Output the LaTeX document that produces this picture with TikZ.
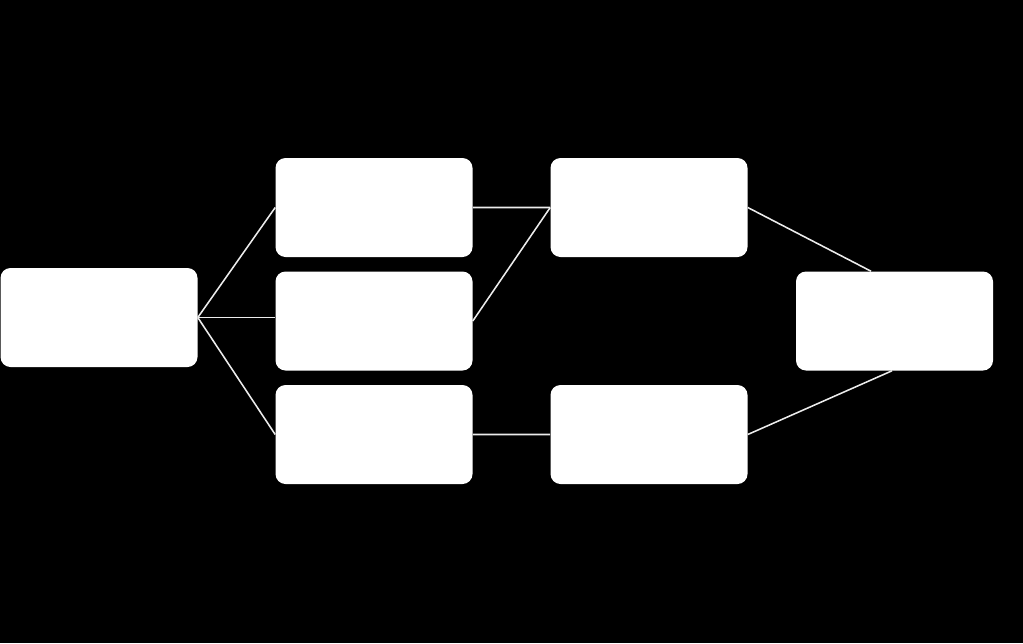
\documentclass[tikz,border=0pt]{standalone}
\begin{document}
\begin{tikzpicture}[grow'=right,
    level distance=6.875cm,
    level 1/.style={sibling distance=2.8375cm},
    box/.style={fill=white,rounded corners=0.25cm,minimum width=4.925cm,minimum height=2.475cm,inner sep=0pt},
    optbox/.style={box,yshift=-0.0875cm},
    link/.style={draw=gray!15,line width=1.1pt},
    edge from parent/.style={link},
    edge from parent path={(\tikzparentnode.east) -- (\tikzchildnode.west)}]
    \fill[black] (0,0) rectangle (25.575,-16.075);
    \useasboundingbox (0,0) rectangle (25.575,-16.075);
    \node[box] (src) at (2.475,-7.9375) {}
     child {
        node[optbox] (opt1) {}
        child {
            node[box] (res1) {}
        }
     }
     child[edge from parent path={(\tikzparentnode.east) -- (\tikzparentnode.east -| \tikzchildnode.west)}] {
        node[optbox] (opt2) {}
     }
     child {
        node[optbox] (opt3) {}
        child {
            node[box] (res2) {}
        }
     };

    \node[box] (goal) at (22.3625,-8.025) {};
    \draw[link] (opt2.east) -- (res1.west);
    \draw[link] (res1.east) -- ([xshift=-0.5875cm]goal.north);
    \draw[link] (res2.east) -- ([xshift=-0.0625cm]goal.south);
\end{tikzpicture}
\end{document}
